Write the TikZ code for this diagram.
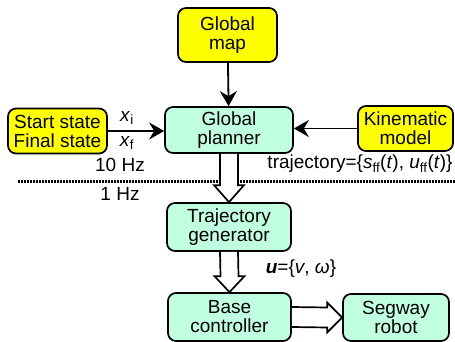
\documentclass[tikz,border=0pt]{standalone}
\usepackage{fontspec}
\setmainfont{Liberation Sans}
\usetikzlibrary{arrows.meta,calc}
\definecolor{boxyellow}{RGB}{255,255,0}
\definecolor{boxmint}{RGB}{192,255,224}
\tikzset{
	block/.style={draw, line width=1.7pt, rounded corners=8pt, inner sep=0pt, align=center,
		font=\fontsize{19}{19}\selectfont},
	inbox/.style={block, fill=boxyellow},
	procbox/.style={block, fill=boxmint},
	conn/.style={line width=1.8pt, -{Stealth[length=15pt,width=17pt,inset=5pt]}},
	hollow/.style={draw, line width=1.7pt, fill=white, line join=miter},
	lbl/.style={font=\fontsize{19}{19}\selectfont, inner sep=0pt}
}
\begin{document}
\begin{tikzpicture}[x=1pt, y=-1pt]
	\useasboundingbox (0,0) rectangle (455,342);
	% inputs
	\node[inbox, minimum width=99pt, minimum height=54pt] (map) at (227.5,35) {Global\\map};
	\node[inbox, minimum width=99pt, minimum height=45pt] (state) at (57.5,131) {Start state\\Final state};
	\node[inbox, minimum width=95pt, minimum height=45pt] (kin) at (405.5,128.5) {Kinematic\\model};
	% processing
	\node[procbox, minimum width=128pt, minimum height=46pt] (gp) at (229,130) {Global\\planner};
	\node[procbox, minimum width=124pt, minimum height=48pt] (tg) at (229,227) {Trajectory\\generator};
	\node[procbox, minimum width=123pt, minimum height=48pt] (bc) at (229.5,317) {Base\\controller};
	\node[procbox, minimum width=106pt, minimum height=47pt] (robot) at (396,317.5) {Segway\\robot};
	% connectors
	\draw[conn] (map) -- (gp);
	\draw[conn] (state.east) -- (state.east -| gp.west);
	\draw[conn] (kin.west) -- (kin.west -| gp.east);
	\node[lbl] (xi) at (127,118) {\textit{x}\textsubscript{i}};
	\node[lbl] (xf) at (127,143) {\textit{x}\textsubscript{f}};
	% rates
	\node[lbl] (fast) at (120,165) {10 Hz};
	\node[lbl] (slow) at (120,194) {1 Hz};
	\coordinate (dl) at (18,181);
	\coordinate (dr) at (455,181);
	\draw[line width=3pt, dash pattern=on 2pt off 1pt] (dl) -- (dr);
	\node[lbl] (traj) at (360,164) {trajectory=\{\textit{s}\textsubscript{ff}(\textit{t}), \textit{u}\textsubscript{ff}(\textit{t})\}};
	% hollow arrows
	\draw[hollow] ($(gp.south)+(-9,0)$) -- ($(tg.north)+(-9,-17)$) -- ($(tg.north)+(-15,-17)$)
		-- (tg.north) -- ($(tg.north)+(15,-17)$) -- ($(tg.north)+(9,-17)$) -- ($(gp.south)+(9,0)$);
	\draw[hollow] ($(tg.south)+(-9,0)$) -- ($(bc.north)+(-9,-16)$) -- ($(bc.north)+(-15,-16)$)
		-- (bc.north) -- ($(bc.north)+(15,-16)$) -- ($(bc.north)+(9,-16)$) -- ($(tg.south)+(9,0)$);
	\node[lbl] (ulbl) at (301,269) {\textbf{\textit{u}}=\{\textit{v}, \textit{ω}\}};
	\draw[hollow] ($(bc.east)+(0,-10)$) -- ($(robot.west)+(-15,-10)$) -- ($(robot.west)+(-15,-15)$)
		-- (robot.west) -- ($(robot.west)+(-15,15)$) -- ($(robot.west)+(-15,10)$) -- ($(bc.east)+(0,10)$);
\end{tikzpicture}
\end{document}
